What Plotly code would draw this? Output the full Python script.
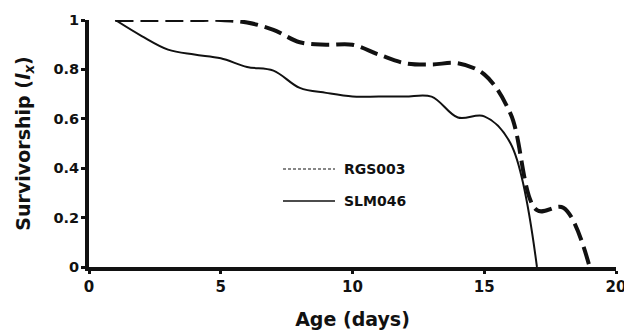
import plotly.graph_objects as go

days_slm = [1, 2, 3, 4, 5, 6, 7, 8, 9, 10, 11, 12, 13, 14, 15, 16, 17]
slm046 = [1.0, 0.935, 0.88, 0.86, 0.845, 0.81, 0.795, 0.725, 0.705, 0.69, 0.69, 0.69, 0.69, 0.605, 0.61, 0.5, 0.0]

days_rgs = [1, 2, 3, 4, 5, 6, 7, 8, 9, 10, 11, 12, 13, 14, 15, 16, 17, 18, 19]
rgs003 = [1.0, 1.0, 1.0, 1.0, 1.0, 0.99, 0.96, 0.91, 0.9, 0.9, 0.86, 0.825, 0.82, 0.825, 0.78, 0.62, 0.23, 0.24, 0.0]

x_ticks = [0, 5, 10, 15, 20]
y_ticks = [0, 0.2, 0.4, 0.6, 0.8, 1]
y_tick_labels = ["0", "0.2", "0.4", "0.6", "0.8", "1"]

FONT = "DejaVu Sans"
INK = "#111111"
# the page adds an 8px body margin, so the figure is sized/margined to compensate
W, H = 624, 324
ML, MR, MT, MB = 81, 16, 12, 65

fig = go.Figure()
fig.add_trace(go.Scatter(
    x=days_rgs, y=rgs003, mode="lines", name="RGS003",
    line=dict(color=INK, width=4, dash="18px,7px", shape="spline", smoothing=1),
    showlegend=False))
fig.add_trace(go.Scatter(
    x=days_slm, y=slm046, mode="lines", name="SLM046",
    line=dict(color=INK, width=2, shape="spline", smoothing=1),
    showlegend=False))

# legend drawn manually (thin sample lines as in the original)
legend_items = [("RGS003", "3px,2px", 1.2), ("SLM046", "solid", 1.6)]
leg_y = [161, 193]   # figure pixels
pw = W - ML - MR
ph = H - MT - MB
for (name, dash, w), py in zip(legend_items, leg_y):
    yp = 1 - (py - MT) / ph
    fig.add_shape(type="line", xref="paper", yref="paper",
                  x0=(275 - ML) / pw, x1=(327 - ML) / pw,
                  y0=yp, y1=yp, line=dict(color=INK, width=w, dash=dash))
    fig.add_annotation(xref="paper", yref="paper",
                       x=(334 - ML) / pw, y=yp, text=name,
                       showarrow=False, xanchor="left", yanchor="middle",
                       font=dict(family=FONT, size=14, color=INK, weight="bold"))

fig.update_layout(
    width=W, height=H,
    margin=dict(l=ML, r=MR, t=MT, b=MB),
    paper_bgcolor="white", plot_bgcolor="white",
    font=dict(family=FONT, color=INK),
)
fig.update_xaxes(
    range=[0, 20], tickvals=x_ticks, ticktext=[str(v) for v in x_ticks],
    showline=True, linecolor=INK, linewidth=4,
    ticks="outside", ticklen=3, tickwidth=3, tickcolor=INK,
    showgrid=False, zeroline=False, automargin=False,
    tickfont=dict(family=FONT, size=15, color=INK, weight="bold"),
    title=dict(text="Age (days)", standoff=19,
               font=dict(family=FONT, size=19, color=INK, weight="bold")),
)
fig.update_yaxes(
    range=[0, 1], tickvals=y_ticks, ticktext=y_tick_labels,
    showline=True, linecolor=INK, linewidth=4,
    ticks="outside", ticklen=4, tickwidth=3, tickcolor=INK,
    showgrid=False, zeroline=False, automargin=False,
    ticklabelstandoff=-1,
    tickfont=dict(family=FONT, size=14.5, color=INK, weight="bold"),
    title=dict(text="Survivorship (<i>l<sub>x</sub></i>)", standoff=19,
               font=dict(family=FONT, size=19, color=INK, weight="bold")),
)

fig.write_html("out.html")
